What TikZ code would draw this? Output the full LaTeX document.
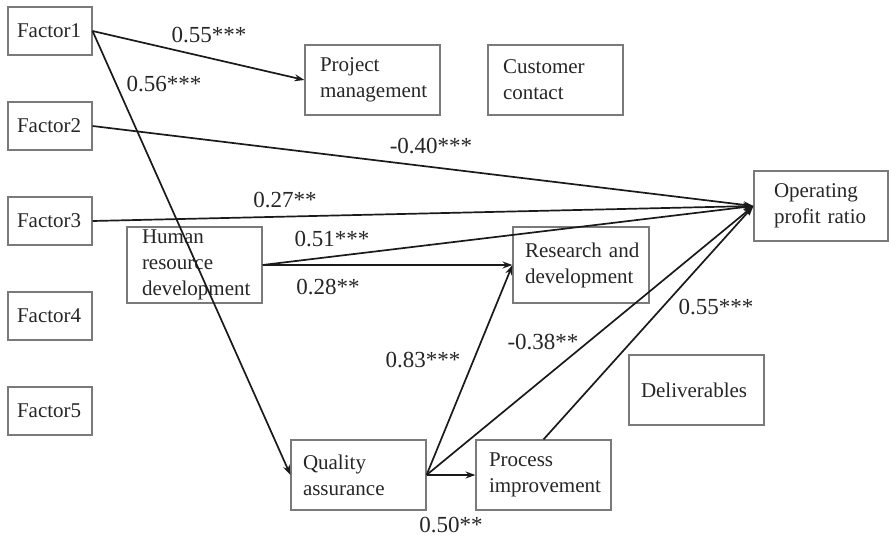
\documentclass[tikz,border=0pt]{standalone}
\usepackage{fontspec}
\setmainfont{Liberation Serif}
\usetikzlibrary{arrows.meta}
\definecolor{boxline}{HTML}{7A7A7A}
\definecolor{ink}{HTML}{262626}
\definecolor{wire}{HTML}{1A1A1A}
\begin{document}
\begin{tikzpicture}[x=1pt,y=-1pt,
  varbox/.style={draw=boxline, line width=1.1pt, text=ink, inner ysep=0pt,
    font=\fontsize{21}{26}\selectfont, align=left},
  small/.style={varbox, minimum width=84pt, minimum height=48pt, inner xsep=9pt, text width=66pt},
  wide/.style={varbox, minimum width=135pt, minimum height=70pt, inner xsep=13pt, text width=109pt},
  coef/.style={text=ink, inner sep=0pt, font=\fontsize{23}{28}\selectfont},
  path/.style={draw=wire, line width=1.7pt, -{Stealth[length=10pt,width=7pt]}}]
\useasboundingbox (0,0) rectangle (889,536);

% left column of factors
\node[small] (f1) at (50,31)  {Factor1};
\node[small] (f2) at (50,126) {Factor2};
\node[small] (f3) at (50,221) {Factor3};
\node[small] (f4) at (50,316) {Factor4};
\node[small] (f5) at (50,411) {Factor5};

% activity and outcome variables
\node[wide, inner xsep=15pt, text width=105pt] (pm) at (372.5,80) {Project\\management};
\node[wide, inner xsep=15pt, text width=105pt] (cc) at (555.5,80) {Customer\\contact};
\node[wide, minimum width=134pt, inner xsep=20pt, text width=94pt] (opr) at (821,206) {Operating\\\mbox{profit ratio}};
\node[wide, minimum height=76pt, inner xsep=15pt, text width=105pt] (hrd) at (194.5,265) {Human\\resource\\development};
\node[wide, minimum width=136pt, minimum height=76pt, inner xsep=12pt, text width=112pt] (rd) at (581,265) {\mbox{Research and}\\development};
\node[wide, inner xsep=12pt, text width=111pt] (qa) at (358.5,475) {Quality\\assurance};
\node[wide] (pi) at (543.5,475) {Process\\improvement};
\node[wide, inner xsep=12pt, text width=111pt] (dl) at (696.5,390) {Deliverables};

% paths
\draw[path] (f1.east) -- (pm.west);
\draw[path] (f1.east) -- (qa.west);
\draw[path] (f2.east) -- (opr.west);
\draw[path] (f3.east) -- (opr.west);
\draw[path] (hrd.east) -- (opr.west);
\draw[path] (hrd.east) -- (rd.west);
\draw[path] (qa.east) -- (rd.west);
\draw[path] (qa.east) -- (opr.west);
\draw[path] (qa.east) -- (pi.west);
\draw[path] (pi.north) -- (opr.west);

% path coefficients
\node[coef] (c1) at (209,35)  {0.55***};
\node[coef] (c2) at (164,84)  {0.56***};
\node[coef] (c3) at (431,146) {-0.40***};
\node[coef] (c4) at (285,200) {0.27**};
\node[coef] (c5) at (332,239) {0.51***};
\node[coef] (c6) at (328,287) {0.28**};
\node[coef] (c7) at (423,360) {0.83***};
\node[coef] (c8) at (543,342) {-0.38**};
\node[coef] (c9) at (716,307) {0.55***};
\node[coef] (c10) at (451,525) {0.50**};
\end{tikzpicture}
\end{document}
